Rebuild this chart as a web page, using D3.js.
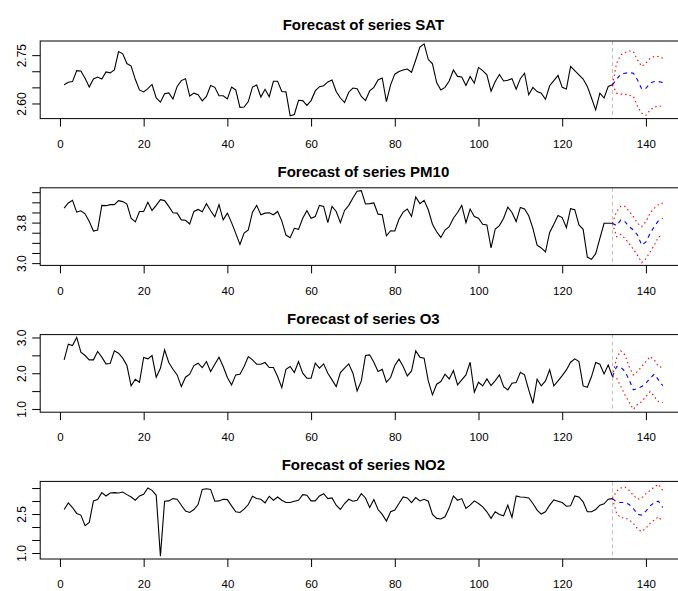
<!DOCTYPE html>
<html lang="en">
<head>
<meta charset="UTF-8">
<title>forecast of series</title>
<script src="https://cdn.jsdelivr.net/npm/d3@7"></script>
<style>
    body { margin: 0; background: #fff; }
    svg { display: block; font-family: "Liberation Sans", Arial, sans-serif; }
    .title { font-weight: bold; font-size: 15px; }
    .tick text { font-size: 12px; fill: #000; }
    .xax .tick text { font-size: 11.5px; }
    .tick line { stroke: #000; }
</style>
</head>
<body>
<svg id="fig" width="678" height="591"></svg>
<script>
    // observed values, t = 1..132
    let sat_obs = [2.658,2.666,2.668,2.702,2.701,2.678,2.651,2.676,2.682,2.676,
        2.698,2.695,2.704,2.761,2.754,2.724,2.716,2.675,2.642,2.636,
        2.646,2.659,2.617,2.604,2.630,2.633,2.614,2.653,2.671,2.677,
        2.623,2.632,2.627,2.608,2.622,2.656,2.650,2.624,2.624,2.614,
        2.651,2.642,2.588,2.589,2.606,2.651,2.657,2.620,2.644,2.621,
        2.669,2.669,2.637,2.636,2.562,2.566,2.610,2.609,2.594,2.609,
        2.639,2.652,2.655,2.667,2.673,2.637,2.617,2.603,2.635,2.648,
        2.646,2.622,2.609,2.639,2.650,2.673,2.679,2.606,2.658,2.691,
        2.699,2.704,2.707,2.697,2.735,2.775,2.785,2.737,2.723,2.665,
        2.642,2.650,2.670,2.704,2.684,2.682,2.656,2.684,2.663,2.712,
        2.702,2.689,2.638,2.668,2.690,2.670,2.672,2.677,2.644,2.677,
        2.694,2.627,2.650,2.637,2.632,2.613,2.655,2.671,2.687,2.650,
        2.645,2.715,2.702,2.689,2.676,2.653,2.617,2.580,2.632,2.617,
        2.653,2.658]
    let pm10_obs = [4.087,4.187,4.24,4.007,4.034,3.974,3.82,3.634,3.654,4.14,
        4.134,4.154,4.154,4.234,4.214,4.167,3.887,3.814,4.02,4.02,
        4.2,4.04,4.14,4.254,4.234,4.12,3.994,3.987,3.854,3.847,
        3.774,4.02,4.06,4.014,4.174,4.034,3.914,4.154,3.854,3.987,
        3.80,3.587,3.367,3.594,3.654,4.007,4.14,3.954,3.987,3.994,
        3.954,4.02,3.834,3.554,3.50,3.687,3.667,3.887,4.034,3.887,
        3.92,4.14,4.12,3.80,4.12,4.02,3.80,4.04,4.14,4.287,
        4.42,4.43,4.167,4.174,4.187,3.967,3.954,3.54,3.64,3.634,
        3.867,4.007,4.067,3.92,4.307,4.174,4.24,4.054,3.767,3.62,
        3.507,3.654,3.72,3.887,4.0,4.14,3.80,4.067,3.92,3.887,
        3.767,3.754,3.30,3.674,3.74,3.887,4.107,4.0,3.82,4.1,
        4.067,3.934,3.687,3.354,3.30,3.22,3.607,3.767,3.94,3.90,
        3.70,4.074,4.054,3.754,3.667,3.12,3.074,3.187,3.487,3.787,
        3.787,3.787]
    let o3_obs = [2.374,2.813,2.776,3.0,2.589,2.495,2.374,2.374,2.607,2.449,
        2.262,2.271,2.626,2.561,2.421,2.215,1.645,1.832,1.748,2.439,
        2.402,2.495,1.888,2.14,2.654,2.299,2.112,1.953,1.626,1.888,
        1.972,2.215,2.28,2.159,2.327,2.047,2.252,2.449,2.187,1.879,
        1.673,1.953,1.972,2.187,2.467,2.374,2.252,2.252,2.299,2.159,
        2.159,1.907,1.598,2.112,2.187,2.019,2.327,2.0,1.86,1.86,
        2.28,2.14,2.262,2.0,1.813,1.626,2.019,2.14,2.262,2.0,
        1.505,1.785,2.495,2.514,2.308,2.047,2.112,1.748,1.879,2.215,
        2.393,2.187,1.925,2.065,2.626,2.449,2.421,1.785,1.393,1.692,
        1.766,1.972,1.841,2.075,1.673,1.813,1.953,2.308,1.467,1.748,
        1.645,1.841,1.654,1.794,1.953,1.626,1.533,1.72,1.738,2.028,
        1.953,1.533,1.159,1.832,1.645,1.785,2.093,1.645,1.785,1.935,
        2.093,2.308,2.402,2.327,1.645,1.607,1.907,2.299,2.252,1.981,
        2.234,1.907]
    let no2_obs = [2.675,2.929,2.751,2.523,2.459,2.053,2.18,3.005,3.056,3.322,
        3.195,3.31,3.322,3.31,3.348,3.246,3.157,3.03,3.195,3.259,
        3.5,3.411,3.221,0.88,2.992,3.005,3.094,3.069,2.84,2.612,
        2.561,2.675,2.865,3.449,3.475,3.449,2.992,3.005,3.069,3.056,
        2.815,2.586,2.561,2.688,2.865,3.183,3.094,3.069,2.929,3.183,
        3.03,3.157,3.03,2.942,2.942,2.992,3.03,3.246,3.221,3.005,
        3.005,3.195,3.284,3.094,3.119,2.84,2.675,2.904,3.069,2.992,
        3.03,3.284,3.119,2.751,3.056,2.675,2.485,2.231,2.586,2.65,
        2.904,3.157,3.119,2.942,3.132,3.005,3.069,2.992,2.485,2.332,
        2.307,2.396,2.739,3.195,3.03,3.094,2.713,2.84,3.005,2.904,
        2.777,2.586,2.332,2.586,2.485,2.434,2.84,2.371,3.195,3.157,
        3.145,3.119,2.904,2.65,2.497,2.586,2.84,3.043,2.992,2.942,
        2.802,2.815,3.195,3.157,2.967,2.586,2.586,2.675,2.84,2.891,
        3.069,3.094]

    // 12 step forecasts, t = 133..144
    let sat_fcst  = [2.675,2.691,2.694,2.696,2.694,2.673,2.645,2.647,2.663,2.668,2.668,2.665]
    let sat_upper = [2.725,2.751,2.758,2.763,2.761,2.735,2.715,2.725,2.740,2.746,2.746,2.740]
    let sat_lower = [2.632,2.629,2.629,2.625,2.622,2.591,2.570,2.563,2.580,2.589,2.591,2.593]
    let pm10_fcst  = [3.74,3.854,3.82,3.72,3.654,3.554,3.354,3.42,3.587,3.72,3.84,3.887]
    let pm10_upper = [4.02,4.12,4.12,4.02,3.92,3.787,3.72,3.82,3.987,4.087,4.154,4.187]
    let pm10_lower = [3.52,3.567,3.487,3.387,3.274,3.154,3.012,3.087,3.22,3.354,3.52,3.54]
    let o3_fcst  = [2.187,2.168,2.047,1.813,1.533,1.579,1.626,1.72,1.86,1.972,1.813,1.654]
    let o3_upper = [2.421,2.626,2.514,2.187,1.953,2.047,2.187,2.327,2.467,2.374,2.187,2.159]
    let o3_lower = [1.86,1.626,1.393,1.187,0.99,1.131,1.206,1.346,1.486,1.346,1.206,1.178]
    let no2_fcst  = [2.967,2.942,2.942,2.865,2.713,2.485,2.459,2.612,2.815,2.942,2.992,2.751]
    let no2_upper = [3.386,3.5,3.538,3.411,3.221,3.069,3.119,3.284,3.411,3.538,3.645,3.411]
    let no2_lower = [2.523,2.358,2.358,2.269,2.142,1.926,1.825,1.952,2.142,2.269,2.396,2.206]

    let series_names = ["SAT", "PM10", "O3", "NO2"]
    let x_ticks = [0, 20, 40, 60, 80, 100, 120, 140]
    let sat_yticks = [2.60, 2.65, 2.70, 2.75]
    let sat_ylabels = ["2.60", "", "", "2.75"]
    let pm10_yticks = [3.0, 3.2, 3.4, 3.6, 3.8, 4.0, 4.2, 4.4]
    let pm10_ylabels = ["3.0", "", "", "", "3.8", "", "", ""]
    let o3_yticks = [1.0, 1.5, 2.0, 2.5, 3.0]
    let o3_ylabels = ["1.0", "", "2.0", "", "3.0"]
    let no2_yticks = [1.0, 1.5, 2.0, 2.5, 3.0, 3.5]
    let no2_ylabels = ["1.0", "", "", "2.5", "", ""]

    let panels = [
        {obs: sat_obs, fcst: sat_fcst, upper: sat_upper, lower: sat_lower, ticks: sat_yticks, labels: sat_ylabels},
        {obs: pm10_obs, fcst: pm10_fcst, upper: pm10_upper, lower: pm10_lower, ticks: pm10_yticks, labels: pm10_ylabels},
        {obs: o3_obs, fcst: o3_fcst, upper: o3_upper, lower: o3_lower, ticks: o3_yticks, labels: o3_ylabels},
        {obs: no2_obs, fcst: no2_fcst, upper: no2_upper, lower: no2_lower, ticks: no2_yticks, labels: no2_ylabels}
    ]

    let svg = d3.select("#fig")
    svg.append("rect").attr("width", 678).attr("height", 591).attr("fill", "#fff")

    let plot_left = 40.2, plot_right = 686.6
    let top0 = 41, step = 146.8, ph = 77.6

    // R style axis range: data range stretched 4%
    function pad(ext){
        let d = (ext[1] - ext[0]) * 0.04
        return [ext[0] - d, ext[1] + d]
    }

    panels.forEach(function(p, i){
        let n = p.obs.length
        let obs_pts = p.obs.map((v, k) => [k + 1, v])
        // forecast lines start from the last observation
        let join = (arr) => [[n, p.obs[n - 1]]].concat(arr.map((v, k) => [n + k + 1, v]))
        let fc_pts = join(p.fcst), up_pts = join(p.upper), lo_pts = join(p.lower)

        let all_pts = obs_pts.concat(fc_pts, up_pts, lo_pts)
        let top = top0 + step * i

        let x = d3.scaleLinear().domain(pad(d3.extent(all_pts, d => d[0]))).range([plot_left, plot_right])
        let y = d3.scaleLinear().domain(pad(d3.extent(all_pts, d => d[1]))).range([top + ph, top])

        let g = svg.append("g")
        let line = d3.line().x(d => x(d[0])).y(d => y(d[1]))

        // end of sample marker
        g.append("line")
            .attr("x1", x(n)).attr("x2", x(n))
            .attr("y1", top).attr("y2", top + ph)
            .attr("stroke", "#bebebe").attr("stroke-width", 1)
            .attr("stroke-dasharray", "4,3")

        g.append("path").datum(obs_pts).attr("d", line)
            .attr("fill", "none").attr("stroke", "#000").attr("stroke-width", 1.1)
        g.append("path").datum(up_pts).attr("d", line)
            .attr("fill", "none").attr("stroke", "#ff0000").attr("stroke-width", 1.1)
            .attr("stroke-dasharray", "1.5,3")
        g.append("path").datum(lo_pts).attr("d", line)
            .attr("fill", "none").attr("stroke", "#ff0000").attr("stroke-width", 1.1)
            .attr("stroke-dasharray", "1.5,3")
        g.append("path").datum(fc_pts).attr("d", line)
            .attr("fill", "none").attr("stroke", "#0000ff").attr("stroke-width", 1.1)
            .attr("stroke-dasharray", "4,4")

        // x axis
        let xa = g.append("g")
            .attr("class", "xax")
            .attr("transform", "translate(0," + (top + ph) + ")")
            .call(d3.axisBottom(x).tickValues(x_ticks).tickSize(8).tickPadding(13).tickFormat(d3.format("d")))
        xa.select(".domain").remove()

        // y axis, labels turned like R
        let lab = new Map(p.ticks.map((t, k) => [t, p.labels[k]]))
        let ya = g.append("g")
            .attr("transform", "translate(" + plot_left + ",0)")
            .call(d3.axisLeft(y).tickValues(p.ticks).tickSize(8).tickFormat(t => lab.get(t)))
        ya.select(".domain").remove()
        ya.selectAll(".tick text")
            .attr("x", null).attr("dy", null)
            .attr("text-anchor", "middle")
            .attr("transform", "translate(-14,0) rotate(-90)")

        // frame
        g.append("rect")
            .attr("x", plot_left).attr("y", top)
            .attr("width", plot_right - plot_left).attr("height", ph)
            .attr("fill", "none").attr("stroke", "#000").attr("stroke-width", 1)

        g.append("text")
            .attr("class", "title")
            .attr("x", (plot_left + plot_right) / 2)
            .attr("y", top - 11)
            .attr("text-anchor", "middle")
            .text("Forecast of series " + series_names[i])
    })
</script>
</body>
</html>
